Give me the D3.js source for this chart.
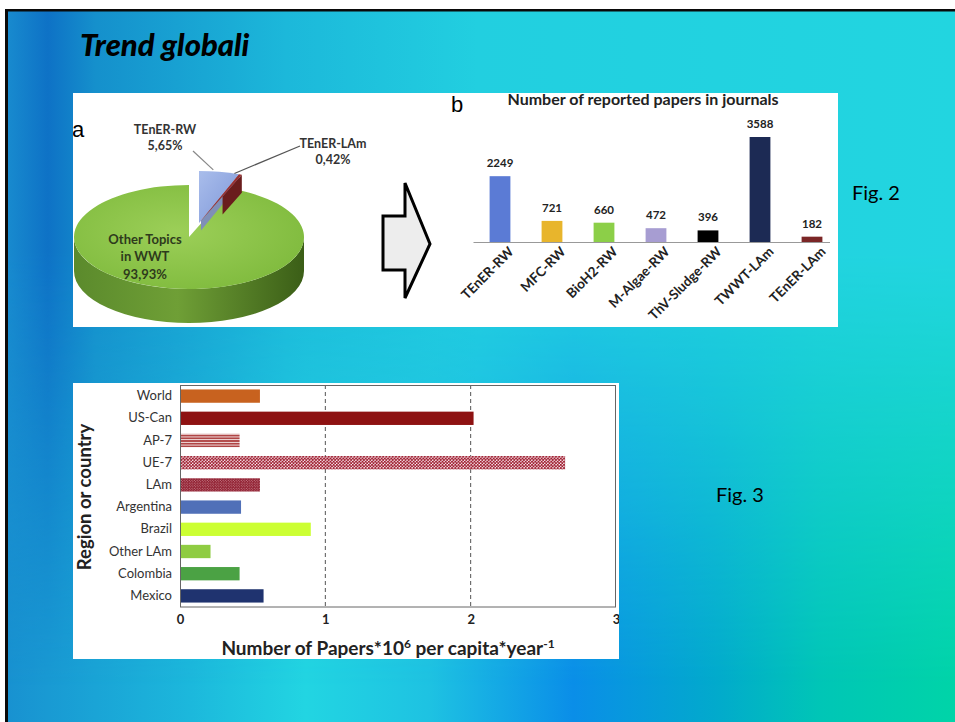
<!DOCTYPE html>
<html>
<head>
<meta charset="utf-8">
<script src="https://cdn.jsdelivr.net/npm/d3@7"></script>
<style>
  html, body { margin: 0; padding: 0; background: #fff; }
  svg { display: block; font-family: Lato, "Open Sans", sans-serif; }
</style>
</head>
<body>
<svg id="slide"></svg>
<script>
// ---- data ----
const pieNames = ["TEnER-RW", "TEnER-LAm", "Other Topics in WWT"];
const pieValues = [5.65, 0.42, 93.93];
const pieText = ["5,65%", "0,42%", "93,93%"];

const paperCats = ["TEnER-RW", "MFC-RW", "BioH2-RW", "M-Algae-RW", "ThV-Sludge-RW", "TWWT-LAm", "TEnER-LAm"];
const paperCounts = [2249, 721, 660, 472, 396, 3588, 182];
const paperColors = ["#5b7bd5", "#e8b52c", "#8ccf48", "#a79dd2", "#000000", "#1c2a54", "#7b2626"];

const regions = ["World", "US-Can", "AP-7", "UE-7", "LAm", "Argentina", "Brazil", "Other LAm", "Colombia", "Mexico"];
const rates = [0.55, 2.02, 0.41, 2.65, 0.55, 0.42, 0.9, 0.21, 0.41, 0.575];
const regionFills = ["#c8621f", "#8e1212", "url(#stripes)", "url(#dots)", "url(#checks)", "#5070b8", "#ccff33", "#8fcc42", "#4ba244", "#1f336f"];
const rateTicks = [0, 1, 2, 3];

const W = 955, H = 722;
const svg = d3.select("#slide").attr("width", W).attr("height", H);
const defs = svg.append("defs");

// ---- background ----
function linGrad(id, stops, x1, y1, x2, y2) {
    const g = defs.append("linearGradient").attr("id", id)
        .attr("x1", x1).attr("y1", y1).attr("x2", x2).attr("y2", y2);
    stops.forEach(s => g.append("stop").attr("offset", s[0]).attr("stop-color", s[1]));
    return g;
}
linGrad("bgBottom", [[0, "#1890d0"], [0.2, "#1cb8dc"], [0.32, "#22d5e2"], [0.45, "#1ec2e2"],
    [0.6, "#0a8ee8"], [0.75, "#02aacc"], [0.86, "#00c6b6"], [1, "#00d4a8"]], 0, 0, 1, 0);
linGrad("bgTop", [[0, "#1a8fd0"], [0.05, "#0e72c6"], [0.1, "#1590cc"], [0.3, "#1cb8da"],
    [0.5, "#22cfe0"], [1, "#22d5e0"]], 0, 0, 1, 0);
linGrad("fadeV", [[0, "#fff"], [0.35, "#fff"], [0.95, "#000"]], 0, 0, 0, 1);
defs.append("mask").attr("id", "topMask")
    .append("rect").attr("x", 0).attr("y", 0).attr("width", W).attr("height", H).attr("fill", "url(#fadeV)");

svg.append("rect").attr("x", 0).attr("y", 0).attr("width", W).attr("height", H).attr("fill", "url(#bgBottom)");
svg.append("rect").attr("x", 0).attr("y", 0).attr("width", W).attr("height", H)
    .attr("fill", "url(#bgTop)").attr("mask", "url(#topMask)");
svg.append("rect").attr("x", 0).attr("y", 0).attr("width", W).attr("height", 9).attr("fill", "#fff");
svg.append("rect").attr("x", 0).attr("y", 0).attr("width", 5).attr("height", H).attr("fill", "#fff");
svg.append("rect").attr("x", 5).attr("y", 9).attr("width", W - 5).attr("height", 2.5).attr("fill", "#0a0a0a");
svg.append("rect").attr("x", 5).attr("y", 9).attr("width", 3).attr("height", H - 9).attr("fill", "#0a0a0a");

svg.append("text").attr("x", 80).attr("y", 56)
    .attr("font-size", 31).attr("font-weight", "900").attr("font-style", "italic")
    .attr("fill", "#000").text("Trend globali");

svg.append("text").attr("x", 852).attr("y", 200).attr("font-size", 20).attr("fill", "#000").text("Fig. 2");
svg.append("text").attr("x", 716).attr("y", 502).attr("font-size", 20).attr("fill", "#000").text("Fig. 3");

// ---- Fig. 2 panel ----
svg.append("rect").attr("x", 73).attr("y", 93).attr("width", 765).attr("height", 234).attr("fill", "#fff");
defs.append("clipPath").attr("id", "fig2clip")
    .append("rect").attr("x", 73).attr("y", 93).attr("width", 765).attr("height", 234);
const fig2 = svg.append("g").attr("clip-path", "url(#fig2clip)");

fig2.append("text").attr("x", 72).attr("y", 137).attr("font-family", "Liberation Sans, Arial")
    .attr("font-size", 22).text("a");
fig2.append("text").attr("x", 451).attr("y", 112).attr("font-family", "Liberation Sans, Arial")
    .attr("font-size", 22).text("b");

// pie (3D look)
const rx = 115, ry = 52, depth = 34;
const pcx = 189, pcy = 237;
const explode = [10, -14];
const pie = d3.pie().sort(null).value(d => d)(pieValues);

function pt(a, cx, cy, dy = 0, k = 1) {
    return [cx + k * rx * Math.sin(a), cy - k * ry * Math.cos(a) + dy];
}
function topFace(a0, a1, cx, cy) {
    const p0 = pt(a0, cx, cy), p1 = pt(a1, cx, cy);
    const large = (a1 - a0) > Math.PI ? 1 : 0;
    return `M${cx},${cy}L${p0}A${rx},${ry} 0 ${large} 1 ${p1}Z`;
}
function outerSide(a0, a1, cx, cy) {
    const s0 = Math.max(a0, Math.PI / 2), s1 = Math.min(a1, 3 * Math.PI / 2);
    if (s0 >= s1) return null;
    const p0 = pt(s0, cx, cy), p1 = pt(s1, cx, cy);
    const q0 = pt(s0, cx, cy, depth), q1 = pt(s1, cx, cy, depth);
    return `M${p0}A${rx},${ry} 0 0 1 ${p1}L${q1}A${rx},${ry} 0 0 0 ${q0}Z`;
}
// partial radial wall (only the outer part of it shows)
function wall(a, cx, cy, k0, d) {
    const p = pt(a, cx, cy, 0, k0), q = pt(a, cx, cy);
    const q2 = pt(a, cx, cy, d), p2 = pt(a, cx, cy, d, k0);
    return `M${p}L${q}L${q2}L${p2}Z`;
}

linGrad("greenSide", [[0, "#5b8a2c"], [0.45, "#6f9f36"], [1, "#3b5e17"]], 0, 0, 1, 0);
const gTop = defs.append("radialGradient").attr("id", "greenTop").attr("cx", 0.45).attr("cy", 0.45).attr("r", 0.6);
gTop.append("stop").attr("offset", 0).attr("stop-color", "#9ccf58");
gTop.append("stop").attr("offset", 1).attr("stop-color", "#80bb3e");
linGrad("blueTop", [[0, "#a9bdeb"], [1, "#7d96d8"]], 0, 0, 1, 1);

const green = pie[2];
fig2.append("path").attr("d", outerSide(green.startAngle, green.endAngle, pcx, pcy)).attr("fill", "url(#greenSide)");
fig2.append("path").attr("d", topFace(green.startAngle, green.endAngle, pcx, pcy)).attr("fill", "url(#greenTop)");

const ecx = pcx + explode[0], ecy = pcy + explode[1];
const blue = pie[0], red = pie[1];
fig2.append("path").attr("d", topFace(blue.startAngle, blue.endAngle, ecx, ecy)).attr("fill", "url(#blueTop)");
fig2.append("path").attr("d", wall(blue.endAngle, ecx, ecy, 0.05, 10)).attr("fill", "#7f8fb8");
fig2.append("path").attr("d", wall(red.endAngle, ecx, ecy, 0.55, 18)).attr("fill", "#6a1d1d");
fig2.append("path").attr("d", topFace(red.startAngle, red.endAngle, ecx, ecy)).attr("fill", "#9a3030");

// pie labels
const lbl = fig2.append("g").attr("font-size", 12.5).attr("font-weight", "bold").attr("fill", "#333")
    .attr("text-anchor", "middle");
const bMid = (blue.startAngle + blue.endAngle) / 2, rMid = (red.startAngle + red.endAngle) / 2;
const bEnd = pt(bMid, ecx, ecy), rEnd = pt(rMid, ecx, ecy);
lbl.append("text").attr("x", 165).attr("y", 134).text(pieNames[0]);
lbl.append("text").attr("x", 165).attr("y", 150).text(pieText[0]);
fig2.append("path").attr("d", `M193,151L${bEnd[0] - 6},${bEnd[1] - 2}`).attr("stroke", "#888").attr("stroke-width", 1.2).attr("fill", "none");
lbl.append("text").attr("x", 333).attr("y", 148).text(pieNames[1]);
lbl.append("text").attr("x", 333).attr("y", 164).text(pieText[1]);
fig2.append("path").attr("d", `M300,146L${rEnd[0] - 6},${rEnd[1] - 1}`).attr("stroke", "#555").attr("stroke-width", 1.2).attr("fill", "none");
const olbl = lbl.append("g").attr("font-size", 13).attr("fill", "#2e3a1c");
olbl.append("text").attr("x", 145).attr("y", 244).text("Other Topics");
olbl.append("text").attr("x", 145).attr("y", 261).text("in WWT");
olbl.append("text").attr("x", 145).attr("y", 279).text(pieText[2]);

// block arrow
fig2.append("path")
    .attr("d", "M383,216L405,216L405,183L430,244L405,298L405,270L383,270Z")
    .attr("fill", "#ededed").attr("stroke", "#000").attr("stroke-width", 3).attr("stroke-linejoin", "miter");

// bar chart b
fig2.append("text").attr("x", 643).attr("y", 105).attr("text-anchor", "middle")
    .attr("font-size", 16).attr("font-weight", "bold").attr("fill", "#222")
    .text("Number of reported papers in journals");

const xb = d3.scaleBand().domain(paperCats).range([474, 838]).paddingInner(0.6).paddingOuter(0.3);
const yb = d3.scaleLinear().domain([0, 3588]).range([242, 137]);

fig2.append("g").selectAll("rect").data(paperCats).join("rect")
    .attr("x", d => xb(d)).attr("width", xb.bandwidth())
    .attr("y", (d, i) => yb(paperCounts[i])).attr("height", (d, i) => yb(0) - yb(paperCounts[i]))
    .attr("fill", (d, i) => paperColors[i]);

fig2.append("g").selectAll("text").data(paperCats).join("text")
    .attr("x", d => xb(d) + xb.bandwidth() / 2).attr("y", (d, i) => yb(paperCounts[i]) - 9)
    .attr("text-anchor", "middle").attr("font-size", 11.5).attr("font-weight", "bold").attr("fill", "#222")
    .text((d, i) => paperCounts[i]);

const xbAxis = fig2.append("g").attr("transform", `translate(0,${yb(0)})`)
    .call(d3.axisBottom(xb).tickSize(0).tickPadding(8));
xbAxis.select(".domain").attr("stroke", "#999").attr("d", "M473.5,0.5H830");
xbAxis.selectAll("text")
    .attr("font-family", "Lato, sans-serif").attr("font-size", 13.5).attr("font-weight", "bold").attr("fill", "#222")
    .attr("text-anchor", "end").attr("dy", "0.3em")
    .attr("transform", "translate(6,2) rotate(-45)");

// ---- Fig. 3 panel ----
svg.append("rect").attr("x", 73).attr("y", 383).attr("width", 546).attr("height", 276).attr("fill", "#fff");
defs.append("clipPath").attr("id", "fig3clip")
    .append("rect").attr("x", 73).attr("y", 383).attr("width", 546).attr("height", 276);
const fig3 = svg.append("g").attr("clip-path", "url(#fig3clip)");

const stripes = defs.append("pattern").attr("id", "stripes").attr("patternUnits", "userSpaceOnUse")
    .attr("width", 4).attr("height", 2.7);
stripes.append("rect").attr("width", 4).attr("height", 2.7).attr("fill", "#fff");
stripes.append("rect").attr("width", 4).attr("height", 1.9).attr("fill", "#b04545");

const dots = defs.append("pattern").attr("id", "dots").attr("patternUnits", "userSpaceOnUse")
    .attr("width", 3.2).attr("height", 3.2);
dots.append("rect").attr("width", 3.2).attr("height", 3.2).attr("fill", "#fff");
dots.append("circle").attr("cx", 0.8).attr("cy", 0.8).attr("r", 1.15).attr("fill", "#a01c30");
dots.append("circle").attr("cx", 2.4).attr("cy", 2.4).attr("r", 1.15).attr("fill", "#a01c30");

const checks = defs.append("pattern").attr("id", "checks").attr("patternUnits", "userSpaceOnUse")
    .attr("width", 2.6).attr("height", 2.6);
checks.append("rect").attr("width", 2.6).attr("height", 2.6).attr("fill", "#8e1a2c");
checks.append("circle").attr("cx", 0.65).attr("cy", 0.65).attr("r", 0.45).attr("fill", "#f4d8dc");
checks.append("circle").attr("cx", 1.95).attr("cy", 1.95).attr("r", 0.45).attr("fill", "#f4d8dc");

const xr = d3.scaleLinear().domain([0, 3]).range([180, 616]);
const yr = d3.scaleBand().domain(regions).range([385, 607]).paddingInner(0.4).paddingOuter(0.2);

fig3.append("g").selectAll("line").data([1, 2]).join("line")
    .attr("x1", d => xr(d)).attr("x2", d => xr(d)).attr("y1", 385).attr("y2", 607)
    .attr("stroke", "#555").attr("stroke-width", 1).attr("stroke-dasharray", "4,3");

fig3.append("g").selectAll("rect").data(regions).join("rect")
    .attr("x", xr(0)).attr("y", d => yr(d))
    .attr("width", (d, i) => xr(rates[i]) - xr(0)).attr("height", yr.bandwidth())
    .attr("fill", (d, i) => regionFills[i]);

fig3.append("rect").attr("x", 180.5).attr("y", 385.5).attr("width", 435).attr("height", 221.5)
    .attr("fill", "none").attr("stroke", "#666").attr("stroke-width", 1);

const yAxis = fig3.append("g").attr("transform", `translate(${xr(0)},0)`)
    .call(d3.axisLeft(yr).tickSize(0).tickPadding(8));
yAxis.select(".domain").remove();
yAxis.selectAll("text").attr("font-family", "Lato, sans-serif").attr("font-size", 13).attr("fill", "#333");

const xAxis = fig3.append("g").attr("transform", "translate(0,607)")
    .call(d3.axisBottom(xr).tickValues(rateTicks).tickFormat(d3.format("d")).tickSize(0).tickPadding(8));
xAxis.select(".domain").remove();
xAxis.selectAll("text").attr("font-family", "Lato, sans-serif").attr("font-size", 13)
    .attr("font-weight", "bold").attr("fill", "#222");

const xt = fig3.append("text").attr("x", 388).attr("y", 655).attr("text-anchor", "middle")
    .attr("font-size", 19).attr("font-weight", "bold").attr("fill", "#222");
xt.append("tspan").text("Number of Papers*10");
xt.append("tspan").attr("font-size", 12).attr("dy", -7).text("6");
xt.append("tspan").attr("dy", 7).text(" per capita*year");
xt.append("tspan").attr("font-size", 12).attr("dy", -7).text("-1");

fig3.append("text").attr("transform", "translate(91,497) rotate(-90)").attr("text-anchor", "middle")
    .attr("font-size", 18.5).attr("font-weight", "bold").attr("fill", "#222").text("Region or country");
</script>
</body>
</html>
